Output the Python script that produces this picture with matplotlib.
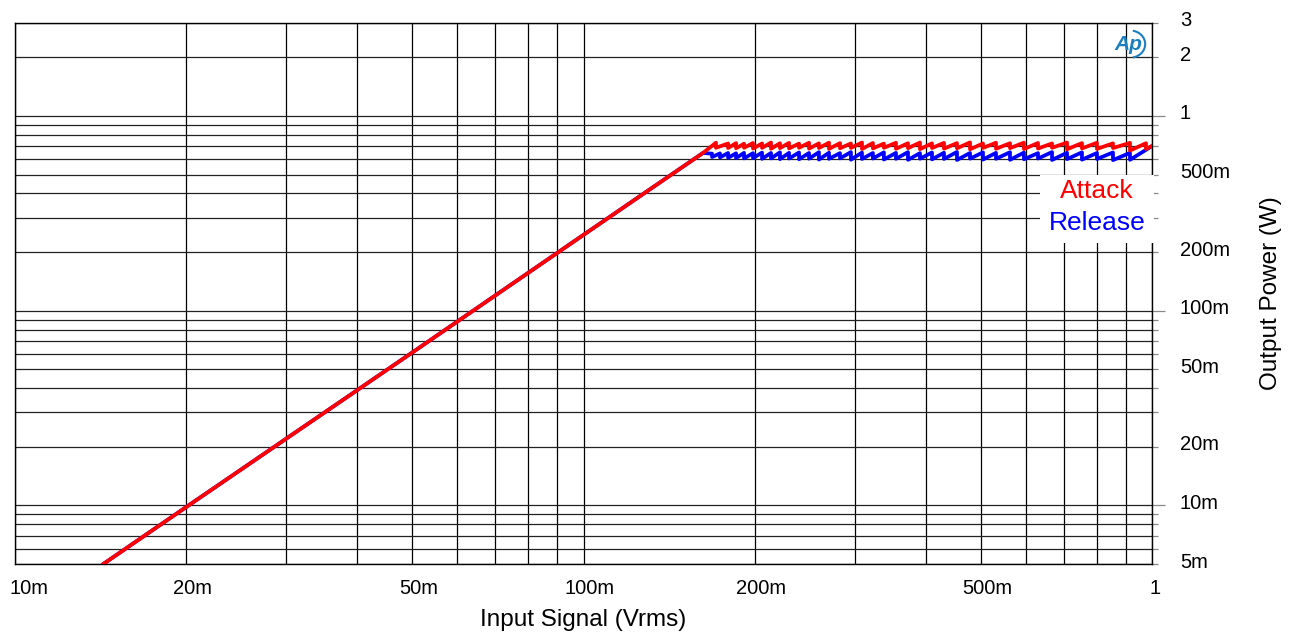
import numpy as np
import matplotlib
matplotlib.use('Agg')
import matplotlib.pyplot as plt
from matplotlib.ticker import FixedLocator, FixedFormatter
from matplotlib.patches import Rectangle, Arc
from matplotlib.transforms import ScaledTranslation

plt.rcParams['font.family'] = ['Liberation Sans', 'DejaVu Sans']

# ── Data ──
# common rising section (P ~ V^2)
rise_v = [0.0143, 0.02, 0.05, 0.1, 0.1622]
rise_p = [0.005, 0.0098, 0.061, 0.245, 0.645]

# limiter sawtooth: x of each gain step, level just before / after the step
red_drop_v = [0.1710, 0.1796, 0.1855, 0.1916, 0.1987, 0.2061, 0.2137, 0.2216, 0.2299, 0.2394,
              0.2493, 0.2595, 0.2703, 0.2826, 0.2954, 0.3089, 0.3229, 0.3376, 0.3545, 0.3722,
              0.3907, 0.4102, 0.4306, 0.4539, 0.4785, 0.5043, 0.5316, 0.5626, 0.5953, 0.6302,
              0.6670, 0.7088, 0.7530, 0.8001, 0.8538, 0.9147, 0.9759]
red_peak = [0.728, 0.722, 0.725, 0.720, 0.726, 0.722, 0.730, 0.724, 0.727, 0.721,
            0.728, 0.723, 0.729, 0.725, 0.722, 0.730, 0.726, 0.721, 0.728, 0.724,
            0.730, 0.723, 0.727, 0.725, 0.731, 0.722, 0.728, 0.724, 0.729, 0.726,
            0.722, 0.730, 0.725, 0.728, 0.723, 0.727, 0.724]
red_trough = [0.686, 0.684, 0.682, 0.686, 0.680, 0.685, 0.678, 0.683, 0.681, 0.686,
              0.679, 0.684, 0.677, 0.682, 0.685, 0.676, 0.681, 0.686, 0.678, 0.683,
              0.675, 0.684, 0.679, 0.682, 0.674, 0.685, 0.678, 0.683, 0.676, 0.680,
              0.686, 0.674, 0.681, 0.677, 0.684, 0.664, 0.676]

blue_drop_v = [0.1683, 0.1738, 0.1796, 0.1855, 0.1916, 0.1987, 0.2061, 0.2137, 0.2216, 0.2299,
               0.2394, 0.2493, 0.2595, 0.2703, 0.2826, 0.2954, 0.3089, 0.3229, 0.3376, 0.3545,
               0.3722, 0.3907, 0.4102, 0.4306, 0.4539, 0.4785, 0.5043, 0.5316, 0.5626, 0.5953,
               0.6302, 0.6670, 0.7088, 0.7530, 0.8001, 0.8538, 0.9147]
blue_peak = [0.640, 0.642, 0.645, 0.643, 0.646, 0.644, 0.648, 0.645, 0.650, 0.646,
             0.649, 0.645, 0.651, 0.647, 0.644, 0.652, 0.648, 0.645, 0.650, 0.646,
             0.652, 0.644, 0.649, 0.647, 0.653, 0.645, 0.650, 0.646, 0.651, 0.648,
             0.644, 0.652, 0.647, 0.650, 0.645, 0.649, 0.646]
blue_trough = [0.615, 0.612, 0.609, 0.607, 0.605, 0.607, 0.602, 0.605, 0.600, 0.604,
               0.599, 0.603, 0.597, 0.602, 0.605, 0.596, 0.601, 0.604, 0.597, 0.602,
               0.595, 0.603, 0.598, 0.601, 0.594, 0.603, 0.597, 0.602, 0.595, 0.599,
               0.604, 0.594, 0.600, 0.596, 0.601, 0.593, 0.595]

end_v = 1.0
red_end_p = 0.702
blue_end_p = 0.700

x_ticks = [0.01, 0.02, 0.05, 0.1, 0.2, 0.5, 1.0]
x_labels = ['10m', '20m', '50m', '100m', '200m', '500m', '1']
y_major = [0.01, 0.1, 1.0]
y_major_labels = ['10m', '100m', '1']
y_minor_labeled = {0.005: '5m', 0.02: '20m', 0.05: '50m', 0.2: '200m',
                   0.5: '500m', 2.0: '2', 3.0: '3'}


def build(drop_v, peak, trough, end_p):
    v = list(rise_v)
    p = list(rise_p)
    for dv, hi, lo in zip(drop_v, peak, trough):
        v += [dv, dv]
        p += [hi, lo]
    v.append(end_v)
    p.append(end_p)
    return v, p


red_v, red_p = build(red_drop_v, red_peak, red_trough, red_end_p)
blue_v, blue_p = build(blue_drop_v, blue_peak, blue_trough, blue_end_p)

fig = plt.figure(figsize=(12.98, 6.39), dpi=100)
ax = fig.add_axes([15 / 1298, 1 - 564 / 639, (1152 - 15) / 1298, (564 - 23) / 639])

ax.plot(blue_v, blue_p, color='#0000ff', lw=2.7, zorder=3)
ax.plot(red_v, red_p, color='#ff0000', lw=2.7, zorder=3.1)

ax.set_xscale('log')
ax.set_yscale('log')
ax.set_xlim(0.01, 1.0)
ax.set_ylim(0.005, 3.0)

# gridlines at every 1..9 multiple
grid_x = [m * 10.0 ** e for e in (-2, -1) for m in range(1, 10)] + [1.0]
grid_y = [m * 10.0 ** e for e in (-3, -2, -1, 0) for m in range(1, 10)]
grid_y = [g for g in grid_y if 0.0049 < g <= 3.01]
for gx in grid_x:
    ax.axvline(gx, color='black', lw=0.9, zorder=1)
for gy in grid_y:
    ax.axhline(gy, color='#222222', lw=0.9, zorder=1)

ax.xaxis.set_major_locator(FixedLocator(x_ticks))
ax.xaxis.set_major_formatter(FixedFormatter(x_labels))
ax.xaxis.set_minor_locator(FixedLocator([]))
ax.tick_params(axis='x', which='both', length=0, pad=11, labelsize=14.5)
for i, lab in enumerate(ax.get_xticklabels()):
    dx = 14 if i == 0 else (3 if i == len(x_ticks) - 1 else 6)
    lab.set_transform(lab.get_transform() + ScaledTranslation(dx / 100, 0, fig.dpi_scale_trans))

ax.yaxis.tick_right()
ax.yaxis.set_label_position('right')
ax.yaxis.set_major_locator(FixedLocator(y_major))
ax.yaxis.set_major_formatter(FixedFormatter(y_major_labels))
minor_pos = [g for g in grid_y if not any(abs(g - m) < 1e-9 for m in y_major)]
minor_text = []
for g in minor_pos:
    txt = ''
    for k, v in y_minor_labeled.items():
        if abs(g - k) < 1e-9:
            txt = v
    minor_text.append(txt)
ax.yaxis.set_minor_locator(FixedLocator(minor_pos))
ax.yaxis.set_minor_formatter(FixedFormatter(minor_text))
ax.tick_params(axis='y', which='major', length=9, width=0.9, color='#888888',
               pad=11, labelsize=14.5)
ax.tick_params(axis='y', which='minor', length=4.5, width=0.9, color='#888888',
               pad=15.5, labelsize=14.5)
ax.tick_params(axis='y', which='both', left=False, labelleft=False)
up = ScaledTranslation(0, 4 / 100, fig.dpi_scale_trans)
for lab in ax.get_yticklabels(which='both'):
    lab.set_transform(lab.get_transform() + up)

for s in ax.spines.values():
    s.set_color('black')
    s.set_linewidth(1.0)

ax.set_xlabel('Input Signal (Vrms)', fontsize=17.5, labelpad=8)
ax.set_ylabel('Output Power (W)', fontsize=17.5, labelpad=22)

# legend box
ax.add_patch(Rectangle((0.9015, 0.593), 0.1, 0.126, transform=ax.transAxes,
                       facecolor='white', edgecolor='none', zorder=4, clip_on=False))
ax.text(0.9515, 0.689, 'Attack', color='#ff0000', fontsize=19, ha='center', va='center',
        transform=ax.transAxes, zorder=5)
ax.text(0.9515, 0.630, 'Release', color='#0000ff', fontsize=19, ha='center', va='center',
        transform=ax.transAxes, zorder=5)

# AP logo
ax.text(0.979, 0.961, 'Ap', color='#1a7ec0', fontsize=15, fontstyle='italic',
        fontweight='bold', ha='center', va='center', transform=ax.transAxes, zorder=5)
ax.add_patch(Arc((0.981, 0.961), 0.026, 0.05, theta1=-85, theta2=85, transform=ax.transAxes,
                 color='#1a7ec0', lw=1.5, zorder=5))

fig.savefig('out.png', dpi=100)
